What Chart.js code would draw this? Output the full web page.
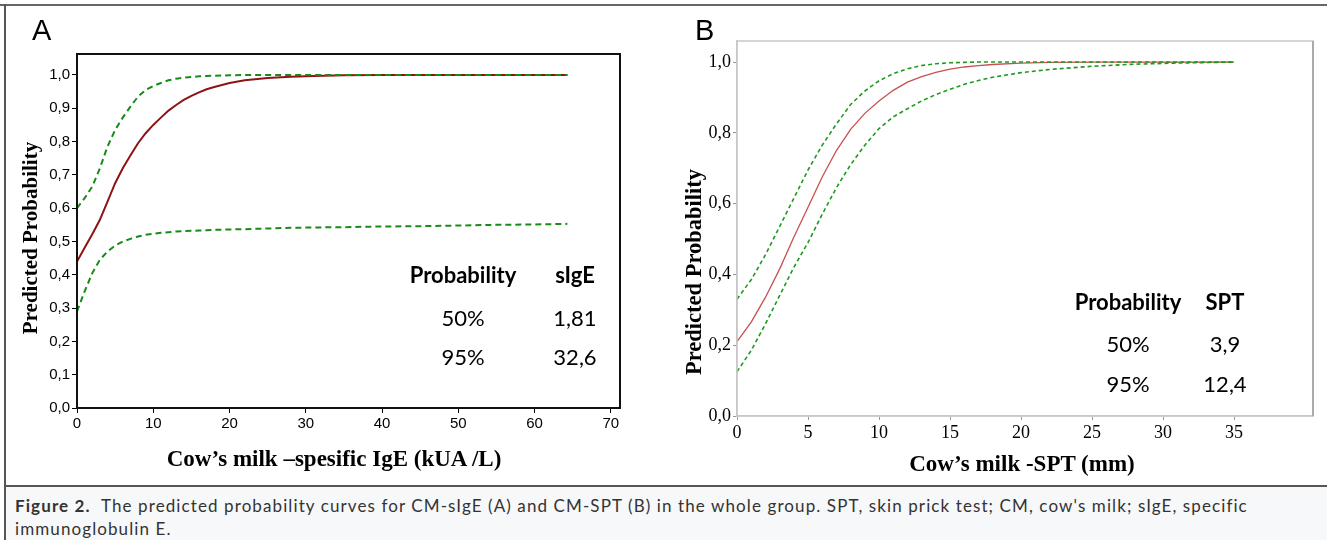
<!DOCTYPE html>
<html>
<head>
<meta charset="utf-8">
<script src="https://cdn.jsdelivr.net/npm/chart.js@4"></script>
<style>
  body { margin: 0; background: #fff; }
  #page { position: relative; width: 1327px; height: 540px; overflow: hidden; background: #fff; }
  .line { position: absolute; background: #666; }
  #caption { position: absolute; left: 6px; top: 487px; right: 0; bottom: 0; background: #f7f8fa; }
  #captionText { position: absolute; left: 15px; top: 494px; font: 17px Lato, sans-serif; line-height: 23px; color: #333; letter-spacing: 1.1px; white-space: nowrap; }
  canvas { position: absolute; }
  .txt { position: absolute; white-space: nowrap; line-height: 1; color: #000; }
</style>
</head>
<body>
<div id="page">
  <div id="caption"></div>
  <div class="line" style="left:0; top:4px; width:1327px; height:2px;"></div>
  <div class="line" style="left:4px; top:4px; width:2px; height:536px; background:#555;"></div>
  <div class="line" style="left:4px; top:485px; width:1323px; height:2px; background:#555;"></div>
  <div id="captionText"><b>Figure 2.</b>&nbsp; The predicted probability curves for CM-sIgE (A) and CM-SPT (B) in the whole group. SPT, skin prick test; CM, cow's milk; sIgE, specific<br>immunoglobulin E.</div>
  <canvas id="chartA" style="left:0; top:0;"></canvas>
  <canvas id="chartB" style="left:660px; top:0;"></canvas>
</div>
<script>
// Panel A: CM-sIgE (kUA/L)
const sIgEValues = [0, 1, 2, 3, 4, 5, 6, 7, 8, 9, 10, 11, 12, 13, 14, 15, 16, 17, 18, 20, 22, 25, 28, 31, 35, 40, 45, 50, 55, 60, 64.3];
const sIgEFit   = [0.44, 0.481, 0.522, 0.565, 0.62, 0.675, 0.72, 0.758, 0.795, 0.825, 0.85, 0.872, 0.893, 0.91, 0.925, 0.937, 0.948, 0.957, 0.964, 0.976, 0.984, 0.991, 0.995, 0.997, 0.999, 1, 1, 1, 1, 1, 1];
const sIgEUpper = [0.60, 0.63, 0.665, 0.72, 0.785, 0.835, 0.872, 0.905, 0.935, 0.955, 0.967, 0.976, 0.984, 0.989, 0.992, 0.994, 0.996, 0.997, 0.998, 0.999, 1, 1, 1, 1, 1, 1, 1, 1, 1, 1, 1];
const sIgELower = [0.29, 0.35, 0.405, 0.445, 0.47, 0.488, 0.50, 0.508, 0.515, 0.52, 0.523, 0.526, 0.528, 0.53, 0.531, 0.532, 0.533, 0.534, 0.535, 0.536, 0.537, 0.539, 0.541, 0.542, 0.543, 0.545, 0.546, 0.548, 0.55, 0.551, 0.553];
const sIgETicks = [0, 10, 20, 30, 40, 50, 60, 70];
const probTicksA = [0, 0.1, 0.2, 0.3, 0.4, 0.5, 0.6, 0.7, 0.8, 0.9, 1.0];

// Panel B: CM-SPT (mm)
const sptValues = [0, 1, 2, 3, 4, 5, 6, 7, 8, 9, 10, 11, 12, 13, 14, 15, 16, 17, 18, 20, 22, 25, 28, 31, 35];
const sptFit   = [0.21, 0.265, 0.335, 0.415, 0.505, 0.59, 0.675, 0.75, 0.81, 0.855, 0.89, 0.92, 0.943, 0.959, 0.971, 0.98, 0.986, 0.99, 0.993, 0.997, 0.999, 1, 1, 1, 1];
const sptUpper = [0.33, 0.385, 0.455, 0.535, 0.615, 0.695, 0.765, 0.825, 0.88, 0.918, 0.947, 0.967, 0.981, 0.99, 0.995, 0.998, 0.999, 1, 1, 1, 1, 1, 1, 1, 1];
const sptLower = [0.125, 0.185, 0.26, 0.34, 0.42, 0.49, 0.57, 0.645, 0.71, 0.765, 0.812, 0.845, 0.868, 0.89, 0.908, 0.923, 0.937, 0.948, 0.957, 0.97, 0.979, 0.988, 0.994, 0.997, 1.0];
const sptTicks = [0, 5, 10, 15, 20, 25, 30, 35];
const probTicksB = [0, 0.2, 0.4, 0.6, 0.8, 1.0];

// probability table shown inside each panel
const tableA = [['Probability', 'sIgE'], ['50%', '1,81'], ['95%', '32,6']];
const tableB = [['Probability', 'SPT'], ['50%', '3,9'], ['95%', '12,4']];

function pts(xs, ys) {
  return xs.map((x, i) => ({ x: x, y: ys[i] }));
}

function comma(v) {
  return v.toFixed(1).replace('.', ',');
}

// box round the plot area
const framePlugin = {
  id: 'frame',
  afterDraw(chart, args, opts) {
    const { ctx, chartArea: a } = chart;
    ctx.save();
    ctx.strokeStyle = opts.color;
    ctx.lineWidth = opts.width;
    ctx.strokeRect(a.left, a.top, a.right - a.left, a.bottom - a.top);
    if (opts.rightColor) {
      ctx.strokeStyle = opts.rightColor;
      ctx.lineWidth = opts.rightWidth;
      ctx.beginPath();
      ctx.moveTo(a.right, a.top);
      ctx.lineTo(a.right, a.bottom);
      ctx.stroke();
    }
    ctx.restore();
  }
};

function makeChart(id, w, h, cfg) {
  const el = document.getElementById(id);
  el.width = w; el.height = h;
  el.style.width = w + 'px'; el.style.height = h + 'px';
  return new Chart(el, {
    type: 'line',
    data: {
      datasets: [
        { data: pts(cfg.xs, cfg.upper), borderColor: cfg.green, borderWidth: cfg.greenWidth, borderDash: cfg.dash, pointRadius: 0, fill: false, tension: 0 },
        { data: pts(cfg.xs, cfg.lower), borderColor: cfg.green, borderWidth: cfg.greenWidth, borderDash: cfg.dash, pointRadius: 0, fill: false, tension: 0 },
        { data: pts(cfg.xs, cfg.fit), borderColor: cfg.red, borderWidth: cfg.redWidth, pointRadius: 0, fill: false, tension: 0 }
      ]
    },
    options: {
      responsive: false,
      animation: false,
      events: [],
      layout: { padding: cfg.padding },
      plugins: {
        legend: { display: false },
        tooltip: { enabled: false },
        frame: cfg.frame
      },
      scales: {
        x: {
          type: 'linear',
          min: 0,
          max: cfg.xMax,
          afterFit: s => { s.height = cfg.xHeight; },
          afterBuildTicks: s => { s.ticks = cfg.xTicks.map(v => ({ value: v })); },
          ticks: { font: cfg.tickFont, color: '#000', padding: cfg.tickPad, maxRotation: 0, callback: v => String(v) },
          grid: { drawOnChartArea: false, drawTicks: true, tickLength: cfg.tickLen, color: cfg.tickColor },
          border: { display: true, color: cfg.frame.color, width: cfg.frame.width }
        },
        y: {
          min: 0,
          max: cfg.yMax,
          afterFit: s => { s.width = cfg.yWidth; },
          afterBuildTicks: s => { s.ticks = cfg.yTicks.map(v => ({ value: v })); },
          ticks: { font: cfg.tickFont, color: '#000', padding: cfg.tickPad, callback: v => comma(v) },
          grid: { drawOnChartArea: false, drawTicks: true, tickLength: cfg.tickLen, color: cfg.tickColor },
          border: { display: true, color: cfg.frame.color, width: cfg.frame.width }
        }
      }
    },
    plugins: [framePlugin]
  });
}

makeChart('chartA', 660, 486, {
  xs: sIgEValues, fit: sIgEFit, upper: sIgEUpper, lower: sIgELower, xTicks: sIgETicks, yTicks: probTicksA,
  red: '#8c1414', redWidth: 2, green: '#178a17', greenWidth: 2, dash: [6, 4],
  padding: { top: 54, right: 40, left: 0, bottom: 0 },
  xMax: 71.2, yMax: 1.063, xHeight: 78, yWidth: 77,
  tickFont: { family: 'Liberation Sans', size: 15 }, tickPad: 2, tickLen: 5, tickColor: '#000',
  frame: { color: '#111', width: 2 }
});

makeChart('chartB', 667, 486, {
  xs: sptValues, fit: sptFit, upper: sptUpper, lower: sptLower, xTicks: sptTicks, yTicks: probTicksB,
  red: '#c85050', redWidth: 1.3, green: '#1f9a1f', greenWidth: 1.6, dash: [4, 3],
  padding: { top: 41, right: 14, left: 0, bottom: 0 },
  xMax: 40.56, yMax: 1.0594, xHeight: 70, yWidth: 77,
  tickFont: { family: 'Liberation Serif', size: 18 }, tickPad: 2, tickLen: 4, tickColor: '#999',
  frame: { color: '#c8c8c8', width: 1.5, rightColor: '#aaa', rightWidth: 2 }
});

// text laid over the charts, placed by baseline
const ascent = { 'Lato': 0.887, 'Liberation Serif': 0.8375, 'Liberation Sans': 0.8465 };
function label(text, x, baseline, family, size, weight, align) {
  const d = document.createElement('div');
  d.className = 'txt';
  d.textContent = text;
  d.style.font = (weight || 'normal') + ' ' + size + 'px "' + family + '"';
  d.style.top = (baseline - ascent[family] * size) + 'px';
  d.style.left = x + 'px';
  if (align === 'center') d.style.transform = 'translateX(-50%)';
  document.getElementById('page').appendChild(d);
}
function vlabel(text, cx, cy, family, size) {
  const d = document.createElement('div');
  d.className = 'txt';
  d.textContent = text;
  d.style.font = 'bold ' + size + 'px "' + family + '"';
  d.style.left = cx + 'px';
  d.style.top = cy + 'px';
  d.style.transform = 'translate(-50%, -50%) rotate(-90deg)';
  document.getElementById('page').appendChild(d);
}

label('A', 32, 39, 'Liberation Sans', 29, 'normal');
label('B', 695, 39, 'Liberation Sans', 29, 'normal');

label('Cow\u2019s milk \u2013spesific IgE (kUA /L)', 334, 465, 'Liberation Serif', 23, 'bold', 'center');
vlabel('Predicted Probability', 30, 238, 'Liberation Serif', 21);
label('Cow\u2019s milk -SPT (mm)', 1022, 470, 'Liberation Serif', 23, 'bold', 'center');
vlabel('Predicted Probability', 694, 272, 'Liberation Serif', 22.5);

const colA = [463, 575], rowA = [281, 324, 363];
const colB = [1128, 1225], rowB = [308, 350, 390];
tableA.forEach((row, r) => row.forEach((t, c) => label(t, colA[c], rowA[r], 'Lato', 22, r === 0 ? 'bold' : 'normal', 'center')));
tableB.forEach((row, r) => row.forEach((t, c) => label(t, colB[c], rowB[r], 'Lato', 22, r === 0 ? 'bold' : 'normal', 'center')));
</script>
</body>
</html>
